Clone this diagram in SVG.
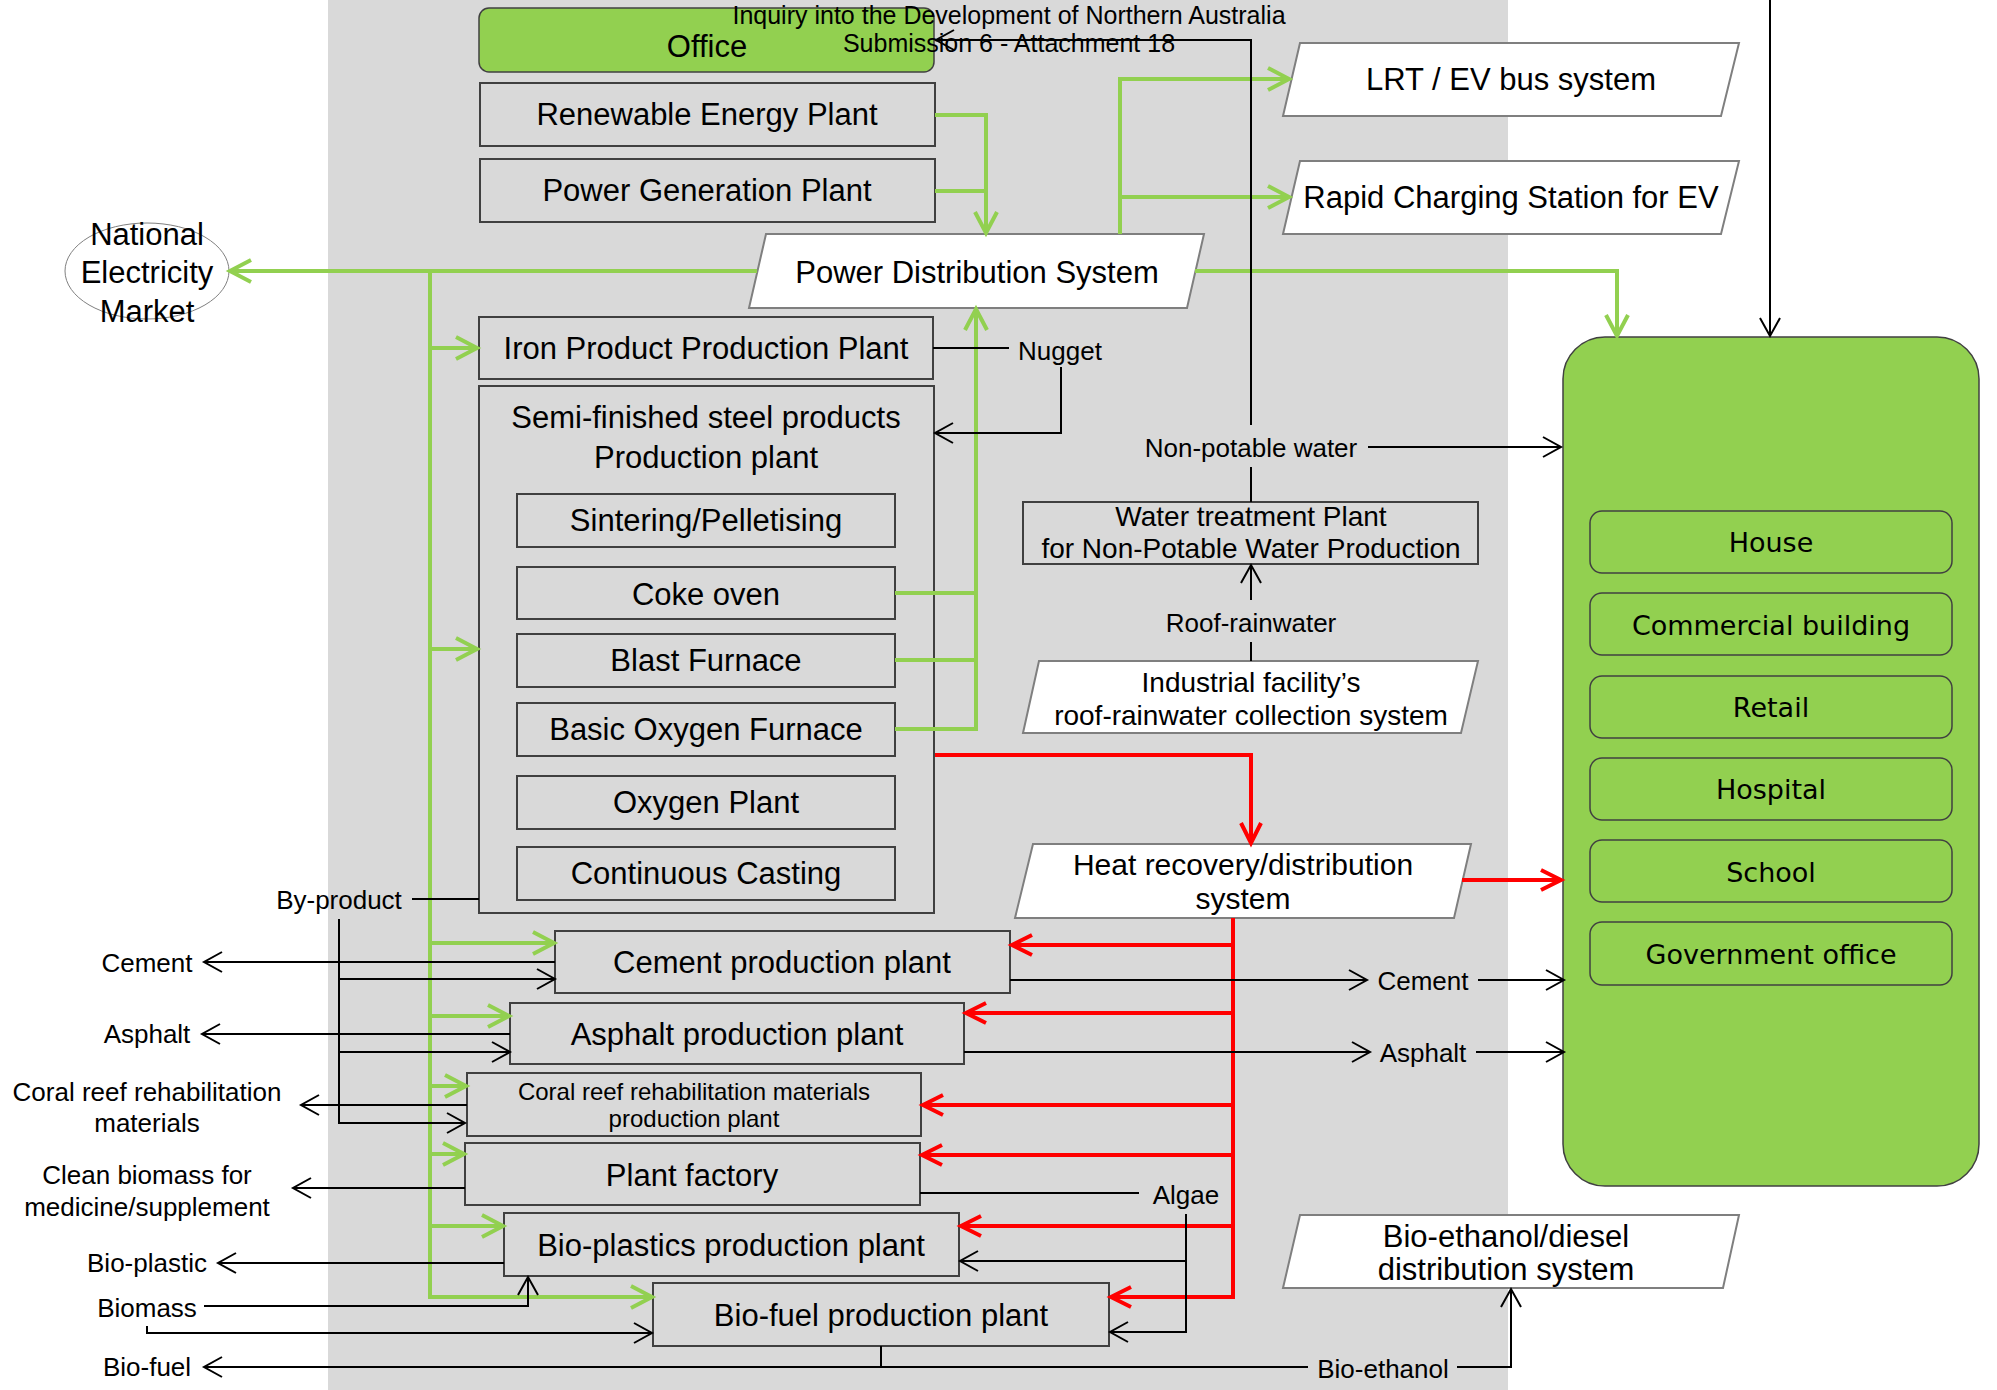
<svg xmlns="http://www.w3.org/2000/svg" width="1997" height="1390" viewBox="0 0 1997 1390">
  <style>
    .t { font-family: "Liberation Sans", Arial, sans-serif; font-size: 31px; fill: #000; text-anchor: middle; dominant-baseline: central; }
    .s { font-size: 26px; }
    .hd { font-size: 25px; }
    .m { font-size: 28px; }
    .c { font-size: 24px; }
    .h { font-size: 30px; }
    .u { font-family: "DejaVu Sans", Verdana, sans-serif; font-size: 27px; fill: #000; text-anchor: middle; dominant-baseline: central; }
    .box { fill: none; stroke: #404040; stroke-width: 2; }
    .para { fill: #fff; stroke: #7f7f7f; stroke-width: 2; }
    .gbox { fill: #92D050; stroke: #404040; stroke-width: 1.5; }
    .g { fill: none; stroke: #92D050; stroke-width: 4; }
    .r { fill: none; stroke: #FF0000; stroke-width: 4; }
    .k { fill: none; stroke: #000; stroke-width: 2; }
  </style>
  <defs>
    <marker id="ag" markerUnits="userSpaceOnUse" markerWidth="30" markerHeight="30" viewBox="-26 -15 30 30" refX="0" refY="0" orient="auto" overflow="visible">
      <path d="M-21,-11 L0,0 L-21,11" fill="none" stroke="#92D050" stroke-width="4"/>
    </marker>
    <marker id="ar" markerUnits="userSpaceOnUse" markerWidth="30" markerHeight="30" viewBox="-26 -15 30 30" refX="0" refY="0" orient="auto" overflow="visible">
      <path d="M-20,-10 L0,0 L-20,10" fill="none" stroke="#FF0000" stroke-width="4"/>
    </marker>
    <marker id="ak" markerUnits="userSpaceOnUse" markerWidth="30" markerHeight="30" viewBox="-26 -15 30 30" refX="0" refY="0" orient="auto" overflow="visible">
      <path d="M-18,-10 L0,0 L-18,10" fill="none" stroke="#000" stroke-width="2"/>
    </marker>
  </defs>

  <rect width="1997" height="1390" fill="#fff"/>
  <!-- industrial zone backdrop -->
  <rect id="zone" x="328" y="0" width="1180" height="1390" fill="#D9D9D9"/>

  <!-- nodes -->
  <g id="office">
    <rect class="gbox" x="479" y="8" width="455" height="64" rx="10"/>
    <text class="t" x="707" y="46">Office</text>
  </g>
  <g id="renewable">
    <rect class="box" x="480" y="83" width="455" height="63"/>
    <text class="t" x="707" y="114">Renewable Energy Plant</text>
  </g>
  <g id="powergen">
    <rect class="box" x="480" y="159" width="455" height="63"/>
    <text class="t" x="707" y="190">Power Generation Plant</text>
  </g>
  <g id="pds">
    <polygon class="para" points="766,234 1204,234 1187,308 749,308"/>
    <text class="t" x="977" y="272">Power Distribution System</text>
  </g>
  <g id="lrt">
    <polygon class="para" points="1300,43 1739,43 1721,116 1283,116"/>
    <text class="t" x="1511" y="79">LRT / EV bus system</text>
  </g>
  <g id="rapid">
    <polygon class="para" points="1300,161 1739,161 1721,234 1283,234"/>
    <text class="t" x="1511" y="197">Rapid Charging Station for EV</text>
  </g>
  <g id="nem">
    <ellipse cx="147" cy="271" rx="82" ry="48" fill="none" stroke="#808080" stroke-width="1"/>
    <text class="t" x="147" y="234">National</text>
    <text class="t" x="147" y="272">Electricity</text>
    <text class="t" x="147" y="311">Market</text>
  </g>
  <g id="iron">
    <rect class="box" x="479" y="317" width="454" height="62"/>
    <text class="t" x="706" y="348">Iron Product Production Plant</text>
  </g>
  <g id="semi">
    <rect class="box" x="479" y="386" width="455" height="527"/>
    <text class="t" x="706" y="417">Semi-finished steel products</text>
    <text class="t" x="706" y="457">Production plant</text>
    <g id="sinter">
      <rect class="box" x="517" y="494" width="378" height="53"/>
      <text class="t" x="706" y="520">Sintering/Pelletising</text>
    </g>
    <g id="coke">
      <rect class="box" x="517" y="567" width="378" height="52"/>
      <text class="t" x="706" y="594">Coke oven</text>
    </g>
    <g id="blast">
      <rect class="box" x="517" y="634" width="378" height="53"/>
      <text class="t" x="706" y="660">Blast Furnace</text>
    </g>
    <g id="bof">
      <rect class="box" x="517" y="703" width="378" height="53"/>
      <text class="t" x="706" y="729">Basic Oxygen Furnace</text>
    </g>
    <g id="oxygen">
      <rect class="box" x="517" y="776" width="378" height="53"/>
      <text class="t" x="706" y="802">Oxygen Plant</text>
    </g>
    <g id="casting">
      <rect class="box" x="517" y="847" width="378" height="53"/>
      <text class="t" x="706" y="873">Continuous Casting</text>
    </g>
  </g>
  <g id="water">
    <rect class="box" x="1023" y="502" width="455" height="62"/>
    <text class="t m" x="1251" y="516">Water treatment Plant</text>
    <text class="t m" x="1251" y="548">for Non-Potable Water Production</text>
  </g>
  <g id="roof">
    <polygon class="para" points="1039,661 1478,661 1461,733 1023,733"/>
    <text class="t m" x="1251" y="682">Industrial facility’s</text>
    <text class="t m" x="1251" y="715">roof-rainwater collection system</text>
  </g>
  <g id="heat">
    <polygon class="para" points="1033,844 1471,844 1454,918 1015,918"/>
    <text class="t h" x="1243" y="864">Heat recovery/distribution</text>
    <text class="t h" x="1243" y="898">system</text>
  </g>
  <g id="cement">
    <rect class="box" x="555" y="931" width="455" height="62"/>
    <text class="t" x="782" y="962">Cement production plant</text>
  </g>
  <g id="asphalt">
    <rect class="box" x="510" y="1003" width="454" height="61"/>
    <text class="t" x="737" y="1034">Asphalt production plant</text>
  </g>
  <g id="coral">
    <rect class="box" x="467" y="1073" width="454" height="63"/>
    <text class="t c" x="694" y="1091">Coral reef rehabilitation materials</text>
    <text class="t c" x="694" y="1118">production plant</text>
  </g>
  <g id="plantfactory">
    <rect class="box" x="465" y="1143" width="455" height="62"/>
    <text class="t" x="692" y="1175">Plant factory</text>
  </g>
  <g id="bioplastics">
    <rect class="box" x="504" y="1213" width="455" height="63"/>
    <text class="t" x="731" y="1245">Bio-plastics production plant</text>
  </g>
  <g id="biofuel">
    <rect class="box" x="653" y="1283" width="456" height="63"/>
    <text class="t" x="881" y="1315">Bio-fuel production plant</text>
  </g>
  <g id="biodist">
    <polygon class="para" points="1300,1215 1739,1215 1723,1288 1283,1288"/>
    <text class="t" x="1506" y="1236">Bio-ethanol/diesel</text>
    <text class="t" x="1506" y="1269">distribution system</text>
  </g>
  <g id="community">
    <rect class="gbox" x="1563" y="337" width="416" height="849" rx="42"/>
    <g id="house"><rect class="gbox" x="1590" y="511" width="362" height="62" rx="12"/><text class="u" x="1771" y="542">House</text></g>
    <g id="commercial"><rect class="gbox" x="1590" y="593" width="362" height="62" rx="12"/><text class="u" x="1771" y="625">Commercial building</text></g>
    <g id="retail"><rect class="gbox" x="1590" y="676" width="362" height="62" rx="12"/><text class="u" x="1771" y="707">Retail</text></g>
    <g id="hospital"><rect class="gbox" x="1590" y="758" width="362" height="62" rx="12"/><text class="u" x="1771" y="789">Hospital</text></g>
    <g id="school"><rect class="gbox" x="1590" y="840" width="362" height="62" rx="12"/><text class="u" x="1771" y="872">School</text></g>
    <g id="government"><rect class="gbox" x="1590" y="922" width="362" height="63" rx="12"/><text class="u" x="1771" y="954">Government office</text></g>
  </g>

  <!-- connectors -->
  <g id="connectors">
    <!-- electricity (green) -->
    <path class="g" d="M935,115 H986 V233" marker-end="url(#ag)"/>
    <path class="g" d="M935,191 H986"/>
    <path class="g" d="M757,271 H230" marker-end="url(#ag)"/>
    <path class="g" d="M430,271 V1297 H652" marker-end="url(#ag)"/>
    <path class="g" d="M430,348 H477" marker-end="url(#ag)"/>
    <path class="g" d="M430,649 H477" marker-end="url(#ag)"/>
    <path class="g" d="M430,943 H554" marker-end="url(#ag)"/>
    <path class="g" d="M430,1016 H509" marker-end="url(#ag)"/>
    <path class="g" d="M430,1086 H466" marker-end="url(#ag)"/>
    <path class="g" d="M430,1154 H464" marker-end="url(#ag)"/>
    <path class="g" d="M430,1226 H503" marker-end="url(#ag)"/>
    <path class="g" d="M895,593 H976"/>
    <path class="g" d="M895,660 H976"/>
    <path class="g" d="M895,729 H976 V309" marker-end="url(#ag)"/>
    <path class="g" d="M1120,234 V79 H1289" marker-end="url(#ag)"/>
    <path class="g" d="M1120,197 H1289" marker-end="url(#ag)"/>
    <path class="g" d="M1195,271 H1617 V336" marker-end="url(#ag)"/>

    <!-- heat (red) -->
    <path class="r" d="M935,755 H1251 V843" marker-end="url(#ar)"/>
    <path class="r" d="M1462,880 H1561" marker-end="url(#ar)"/>
    <path class="r" d="M1233,918 V1297 H1111" marker-end="url(#ar)"/>
    <path class="r" d="M1233,945 H1012" marker-end="url(#ar)"/>
    <path class="r" d="M1233,1013 H966" marker-end="url(#ar)"/>
    <path class="r" d="M1233,1105 H923" marker-end="url(#ar)"/>
    <path class="r" d="M1233,1155 H922" marker-end="url(#ar)"/>
    <path class="r" d="M1233,1226 H961" marker-end="url(#ar)"/>

    <!-- materials and water (black) -->
    <path class="k" d="M1251,425 V40 H936" marker-end="url(#ak)"/>
    <path class="k" d="M1251,467 V502"/>
    <path class="k" d="M1368,447 H1561" marker-end="url(#ak)"/>
    <path class="k" d="M1251,600 V565" marker-end="url(#ak)"/>
    <path class="k" d="M1251,642 V661"/>
    <path class="k" d="M933,348 H1009"/>
    <path class="k" d="M1061,367 V433 H935" marker-end="url(#ak)"/>
    <path class="k" d="M1770,0 V336" marker-end="url(#ak)"/>
    <path class="k" d="M412,899 H479"/>
    <path class="k" d="M339,919 V1123 H465" marker-end="url(#ak)"/>
    <path class="k" d="M339,979 H555" marker-end="url(#ak)"/>
    <path class="k" d="M339,1052 H510" marker-end="url(#ak)"/>
    <path class="k" d="M555,962 H204" marker-end="url(#ak)"/>
    <path class="k" d="M510,1034 H202" marker-end="url(#ak)"/>
    <path class="k" d="M467,1105 H301" marker-end="url(#ak)"/>
    <path class="k" d="M465,1188 H293" marker-end="url(#ak)"/>
    <path class="k" d="M504,1263 H218" marker-end="url(#ak)"/>
    <path class="k" d="M204,1306 H528 V1277" marker-end="url(#ak)"/>
    <path class="k" d="M147,1326 V1333 H652" marker-end="url(#ak)"/>
    <path class="k" d="M881,1346 V1367 H204" marker-end="url(#ak)"/>
    <path class="k" d="M881,1367 H1308"/>
    <path class="k" d="M1457,1367 H1511 V1289" marker-end="url(#ak)"/>
    <path class="k" d="M1010,980 H1367" marker-end="url(#ak)"/>
    <path class="k" d="M1478,980 H1564" marker-end="url(#ak)"/>
    <path class="k" d="M964,1052 H1370" marker-end="url(#ak)"/>
    <path class="k" d="M1476,1052 H1564" marker-end="url(#ak)"/>
    <path class="k" d="M920,1193 H1139"/>
    <path class="k" d="M1186,1214 V1332 H1110" marker-end="url(#ak)"/>
    <path class="k" d="M1186,1261 H960" marker-end="url(#ak)"/>
  </g>

  <!-- flow labels -->
  <g id="labels">
    <text class="t s" x="1060" y="351">Nugget</text>
    <text class="t s" x="1251" y="448">Non-potable water</text>
    <text class="t s" x="1251" y="623">Roof-rainwater</text>
    <text class="t s" x="339" y="900">By-product</text>
    <text class="t s" x="147" y="963">Cement</text>
    <text class="t s" x="147" y="1034">Asphalt</text>
    <text class="t s" x="147" y="1092">Coral reef rehabilitation</text>
    <text class="t s" x="147" y="1123">materials</text>
    <text class="t s" x="147" y="1175">Clean biomass for</text>
    <text class="t s" x="147" y="1207">medicine/supplement</text>
    <text class="t s" x="147" y="1263">Bio-plastic</text>
    <text class="t s" x="147" y="1308">Biomass</text>
    <text class="t s" x="147" y="1367">Bio-fuel</text>
    <text class="t s" x="1423" y="981">Cement</text>
    <text class="t s" x="1423" y="1053">Asphalt</text>
    <text class="t s" x="1186" y="1195">Algae</text>
    <text class="t s" x="1383" y="1369">Bio-ethanol</text>
  </g>

  <!-- page header -->
  <g id="header">
    <text class="t hd" x="1009" y="15">Inquiry into the Development of Northern Australia</text>
    <text class="t hd" x="1009" y="43">Submission 6 - Attachment 18</text>
  </g>
</svg>
